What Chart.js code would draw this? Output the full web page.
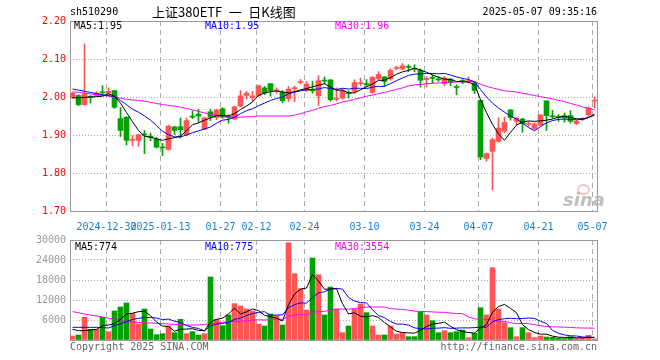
<!DOCTYPE html>
<html><head><meta charset="utf-8">
<script src="https://cdn.jsdelivr.net/npm/chart.js@4.4.1/dist/chart.umd.min.js"></script>
<style>
html,body{margin:0;padding:0;background:#fff;}
#wrap{position:relative;width:660px;height:360px;overflow:hidden;font-family:"DejaVu Sans Mono",monospace;font-size:10px;}
canvas{position:absolute;left:0;}
.t{position:absolute;white-space:pre;line-height:12px;}
</style></head><body>
<div id="wrap">
<canvas id="k" width="660" height="236" style="top:0"></canvas>
<canvas id="v" width="660" height="130" style="top:230px"></canvas>
<div class="t" style="left:70px;top:6px;color:#000">sh510290</div>
<div class="t" style="left:152px;top:3px;font-family:'Noto Sans CJK SC';font-size:13px;line-height:17px;color:#000">上证380ETF&#8194;一&#8194;日K线图</div>
<div class="t" style="right:63px;top:6px;color:#000">2025-05-07 09:35:16</div>
<div class="t" style="left:74px;top:20px;color:#000">MA5:1.95</div>
<div class="t" style="left:205px;top:20px;color:#0000ff">MA10:1.95</div>
<div class="t" style="left:335px;top:20px;color:#ff00ff">MA30:1.96</div>
<div class="t" style="left:75px;top:241px;color:#000">MA5:774</div>
<div class="t" style="left:205px;top:241px;color:#0000ff">MA10:775</div>
<div class="t" style="left:335px;top:241px;color:#ff00ff">MA30:3554</div>
<div class="t" style="left:70px;top:341px;color:#666">Copyright 2025 SINA.COM</div>
<div class="t" style="right:63px;top:341px;color:#666">http://finance.sina.com.cn</div>
<div style="position:absolute;left:577px;top:184px;width:9px;height:7px;border:2px solid rgba(240,150,150,0.55);border-radius:50%;"></div>
<div class="t" style="left:563px;top:191px;font-family:'DejaVu Sans';font-style:italic;font-weight:bold;font-size:18px;line-height:18px;color:rgba(170,170,170,0.75)">sina</div>
</div>
<script>
const tickIdx = [6,15,25,31,39,49,59,68,78,87];
const tickLabels = ['2024-12-30','2025-01-13','01-27','02-12','02-24','03-10','03-24','04-07','04-21','05-07'];
const priceTicks = [1.70,1.80,1.90,2.00,2.10,2.20];
const volTicks = [0,6000,12000,18000,24000,30000];

const open = [1.998,2.004,1.980,2.001,2.004,2.013,2.011,2.017,1.943,1.947,
1.886,1.886,1.902,1.896,1.889,1.868,1.862,1.921,1.922,1.901,
1.949,1.955,1.915,1.961,1.946,1.969,1.948,1.942,1.976,2.004,
1.998,2.003,2.024,2.035,2.016,2.012,1.995,2.022,2.038,2.017,
2.018,2.003,2.044,2.045,1.994,1.997,2.011,2.015,2.035,2.035,
2.012,2.048,2.053,2.048,2.075,2.074,2.080,2.075,2.070,2.046,
2.051,2.047,2.035,2.047,2.027,2.043,2.040,2.037,1.991,1.838,
1.857,1.883,1.910,1.966,1.936,1.942,1.928,1.917,1.926,1.990,
1.950,1.948,1.951,1.951,1.930,1.941,1.953,1.989];
const high = [2.012,2.006,2.140,2.004,2.014,2.030,2.024,2.018,1.972,1.948,
1.898,1.902,1.912,1.905,1.894,1.878,1.926,1.923,1.945,1.945,
1.963,1.968,1.946,1.968,1.968,1.972,1.953,1.976,2.017,2.015,
2.015,2.031,2.028,2.036,2.024,2.017,2.028,2.029,2.046,2.041,
2.041,2.056,2.053,2.046,2.024,2.021,2.017,2.045,2.050,2.046,
2.054,2.067,2.054,2.074,2.081,2.088,2.085,2.085,2.074,2.053,
2.058,2.054,2.054,2.049,2.032,2.046,2.053,2.041,1.992,1.852,
1.892,1.945,1.947,1.967,1.947,1.944,1.936,1.932,1.953,1.990,
1.965,1.954,1.958,1.964,1.940,1.946,1.974,2.000];
const low = [1.996,1.977,1.978,1.984,2.002,2.003,2.004,1.970,1.896,1.874,
1.872,1.870,1.851,1.885,1.866,1.846,1.860,1.901,1.892,1.898,
1.943,1.934,1.914,1.938,1.940,1.944,1.931,1.940,1.974,1.994,
1.990,2.002,2.006,2.002,2.010,1.985,1.988,1.988,2.035,2.014,
2.010,1.978,2.035,1.989,1.989,1.994,1.997,2.010,2.030,2.026,
2.010,2.045,2.028,2.044,2.072,2.072,2.067,2.066,2.026,2.026,
2.037,2.041,2.030,2.030,2.006,2.035,2.036,2.009,1.835,1.831,
1.756,1.881,1.906,1.939,1.927,1.907,1.923,1.914,1.924,1.912,
1.944,1.936,1.934,1.931,1.927,1.938,1.949,1.971];
const close = [2.010,1.980,2.008,1.999,2.010,2.011,2.015,1.973,1.912,1.886,
1.888,1.901,1.900,1.894,1.868,1.866,1.923,1.912,1.914,1.938,
1.947,1.950,1.945,1.947,1.966,1.947,1.946,1.974,2.003,2.010,
2.003,2.030,2.010,2.017,2.018,1.990,2.021,2.024,2.040,2.034,
2.016,2.043,2.042,1.993,1.996,2.017,2.009,2.038,2.037,2.033,
2.052,2.059,2.041,2.070,2.077,2.082,2.078,2.073,2.044,2.048,
2.049,2.045,2.050,2.038,2.025,2.041,2.042,2.017,1.842,1.851,
1.888,1.918,1.933,1.946,1.944,1.930,1.930,1.929,1.953,1.951,
1.948,1.946,1.945,1.936,1.936,1.942,1.971,1.991];

const ma5 = [1.998,1.998,1.999,2.000,2.001,2.002,2.009,2.002,1.984,1.959,
1.935,1.912,1.897,1.894,1.890,1.886,1.890,1.893,1.897,1.911,
1.927,1.932,1.939,1.945,1.951,1.951,1.950,1.956,1.967,1.976,
1.987,2.004,2.011,2.014,2.016,2.013,2.011,2.014,2.019,2.022,
2.027,2.031,2.035,2.026,2.018,2.018,2.011,2.011,2.019,2.027,
2.034,2.044,2.044,2.051,2.060,2.066,2.070,2.076,2.071,2.065,
2.058,2.052,2.047,2.046,2.041,2.040,2.039,2.033,1.993,1.959,
1.928,1.903,1.886,1.907,1.926,1.934,1.937,1.936,1.937,1.939,
1.942,1.947,1.949,1.946,1.943,1.942,1.946,1.955];
const ma10 = [2.021,2.018,2.015,2.012,2.009,2.006,2.004,2.001,1.991,1.980,
1.968,1.960,1.950,1.939,1.925,1.910,1.901,1.895,1.895,1.900,
1.906,1.911,1.916,1.921,1.931,1.939,1.941,1.947,1.956,1.964,
1.969,1.977,1.984,1.991,1.996,2.000,2.008,2.013,2.016,2.019,
2.020,2.021,2.025,2.022,2.020,2.023,2.021,2.023,2.023,2.022,
2.026,2.028,2.028,2.035,2.043,2.050,2.057,2.060,2.061,2.062,
2.062,2.061,2.062,2.058,2.053,2.049,2.046,2.040,2.020,2.000,
1.984,1.971,1.960,1.950,1.942,1.931,1.920,1.911,1.922,1.932,
1.938,1.941,1.942,1.941,1.940,1.941,1.946,1.952];
const ma30 = [2.014,2.012,2.010,2.008,2.006,2.004,2.002,2.000,1.997,1.994,
1.992,1.991,1.989,1.986,1.983,1.980,1.978,1.976,1.973,1.970,
1.966,1.962,1.958,1.955,1.952,1.950,1.948,1.947,1.947,1.948,
1.948,1.950,1.950,1.950,1.950,1.950,1.950,1.952,1.956,1.961,
1.965,1.970,1.975,1.978,1.982,1.987,1.990,1.994,1.998,2.002,
2.005,2.009,2.012,2.016,2.020,2.024,2.029,2.032,2.033,2.035,
2.036,2.037,2.038,2.039,2.039,2.041,2.041,2.041,2.034,2.028,
2.024,2.020,2.016,2.015,2.013,2.010,2.007,2.004,2.001,1.998,
1.995,1.991,1.988,1.983,1.979,1.974,1.970,1.966];

const vol = [1200,1500,6800,3200,3200,6800,2500,8700,9900,11100,
8000,4800,9300,3300,1600,1900,4200,2200,6200,1900,
2500,1500,1900,18900,6200,4300,7500,10900,10200,9300,
8700,4800,4200,7800,7300,4500,29200,19900,15400,9000,
24600,19600,7500,15900,9300,2200,4200,9200,10800,8200,
4200,1500,1500,4200,1800,2200,1000,1000,8500,7500,
5800,2200,2800,2200,2500,3000,700,2000,9700,7500,
21700,9300,5200,3700,1000,3700,2200,700,1200,900,
800,600,450,1000,500,700,1400,300];
const vma5 = [3200,2800,2800,3000,3180,4300,4500,4880,6220,7800,
8040,8500,8620,7300,5400,4180,4060,2640,3220,3280,
3400,2860,2800,5340,6200,6560,7760,9560,7820,8440,
9320,8780,7440,6960,6560,5720,10600,13740,15260,15600,
19620,17700,15220,15320,15380,10900,7820,8160,7140,6920,
7320,6780,5240,3920,2640,2240,2140,2040,2900,4040,
4760,5000,5360,4100,3100,2540,2240,2080,3580,4580,
8320,10040,10680,9480,8180,4580,3160,2260,1760,1740,
1160,840,790,750,670,650,810,774];
const vma10 = [3800,3800,3800,3800,3800,3700,3600,4300,4900,5490,
6170,6500,6750,6760,6600,6110,6280,5630,5260,4340,
3790,3460,2720,4280,4740,4980,5310,6180,6580,7320,
7940,8270,8500,7390,7500,7520,9690,10590,11110,11080,
12670,14150,14480,15290,15490,15260,12760,11690,11230,11150,
9110,7300,6700,5530,4780,4780,4460,3640,3410,3340,
3500,3570,3700,3500,3570,3650,3620,3720,3840,3840,
5430,6140,6380,6530,6380,6450,6600,6470,5620,4960,
2870,2000,1525,1255,1205,905,825,775];
const vma30 = [8500,8200,7800,7500,7200,6900,6500,6200,6000,5500,
5400,5300,5200,5100,5000,4900,4800,4700,4600,4500,
4500,4500,4700,4900,5100,5300,5500,5600,5700,5717,
5967,6077,5990,6143,6280,6203,7093,7467,7650,7580,
8133,8627,8567,8987,9243,9253,9253,9487,9640,9850,
9907,9907,9893,9403,9257,9187,8970,8640,8583,8523,
8427,8340,8293,8107,7947,7897,6947,6350,6160,6110,
6013,5670,5593,5187,4910,4960,4893,4610,4290,4047,
3933,3903,3868,3762,3650,3600,3580,3554];

const RED = '#ff5555', GREEN = '#00a000';
const idx = close.map((_, i) => i);
const col = idx.map(i => close[i] >= open[i] ? RED : GREEN);
const pts = arr => idx.map(i => ({x: i, y: arr[i]}));
const MONO = {family: 'DejaVu Sans Mono', size: 10};

const frame = {id: 'frame', beforeDatasetsDraw(c) {
  const a = c.chartArea, g = c.ctx;
  g.save(); g.strokeStyle = '#999'; g.lineWidth = 1;
  g.strokeRect(Math.round(a.left) + 0.5, Math.round(a.top) + 0.5, Math.round(a.right - a.left), Math.round(a.bottom - a.top));
  g.restore();
}};

function xAxis(showLabels, h) {
  return {
    type: 'linear', min: -0.4167, max: 87.4167, offset: false,
    afterBuildTicks: s => { s.ticks = tickIdx.map(i => ({value: i - 0.333})); },
    afterFit: s => { s.height = h; },
    grid: {color: '#aaa', lineWidth: 1, drawTicks: false, offset: false},
    border: {display: false, dash: [5, 4]},
    ticks: {display: showLabels, autoSkip: false, maxRotation: 0, minRotation: 0, padding: 10,
      color: '#1a7fd0', font: MONO, callback: (v, i) => tickLabels[i]}
  };
}
function line(arr, color) {
  return {type: 'line', data: pts(arr), borderColor: color, borderWidth: 1, pointRadius: 0, tension: 0, order: 0};
}

new Chart(document.getElementById('k'), {
  type: 'bar',
  data: {datasets: [
    line(ma5, '#000000'), line(ma10, '#0000ff'), line(ma30, '#ff00ff'),
    {type: 'bar', data: idx.map(i => ({x: i, y: [open[i], close[i]]})), backgroundColor: col,
      barThickness: 5, minBarLength: 1, grouped: false, order: 1},
    {type: 'bar', data: idx.map(i => ({x: i, y: [low[i], high[i]]})), backgroundColor: col,
      barThickness: 1, grouped: false, order: 2}
  ]},
  options: {
    responsive: false, animation: false, events: [],
    layout: {padding: {left: 0, right: 63, top: 21, bottom: 0}},
    plugins: {legend: {display: false}, tooltip: {enabled: false}},
    scales: {
      x: xAxis(true, 25),
      y: {type: 'linear', min: 1.7, max: 2.2, position: 'left',
        afterBuildTicks: s => { s.ticks = priceTicks.map(v => ({value: v})); },
        afterFit: s => { s.width = 70; },
        grid: {color: '#aaa', drawTicks: false},
        border: {display: false, dash: [1, 2]},
        ticks: {color: '#ff0000', padding: 4, font: MONO, callback: v => v.toFixed(2)}}
    }
  },
  plugins: [frame]
});

new Chart(document.getElementById('v'), {
  type: 'bar',
  data: {datasets: [
    line(vma5, '#000000'), line(vma10, '#0000ff'), line(vma30, '#ff00ff'),
    {type: 'bar', data: idx.map(i => ({x: i, y: vol[i]})), backgroundColor: col,
      barThickness: 5, grouped: false, order: 1}
  ]},
  options: {
    responsive: false, animation: false, events: [],
    layout: {padding: {left: 0, right: 63, top: 10, bottom: 0}},
    plugins: {legend: {display: false}, tooltip: {enabled: false}},
    scales: {
      x: xAxis(false, 20),
      y: {type: 'linear', min: 0, max: 30000, position: 'left',
        afterBuildTicks: s => { s.ticks = volTicks.map(v => ({value: v})); },
        afterFit: s => { s.width = 70; },
        grid: {color: '#aaa', drawTicks: false},
        border: {display: false, dash: [1, 2]},
        ticks: {color: '#999', padding: 4, font: MONO, callback: v => v === 0 ? '' : String(v)}}
    }
  },
  plugins: [frame]
});
</script>
</body></html>
